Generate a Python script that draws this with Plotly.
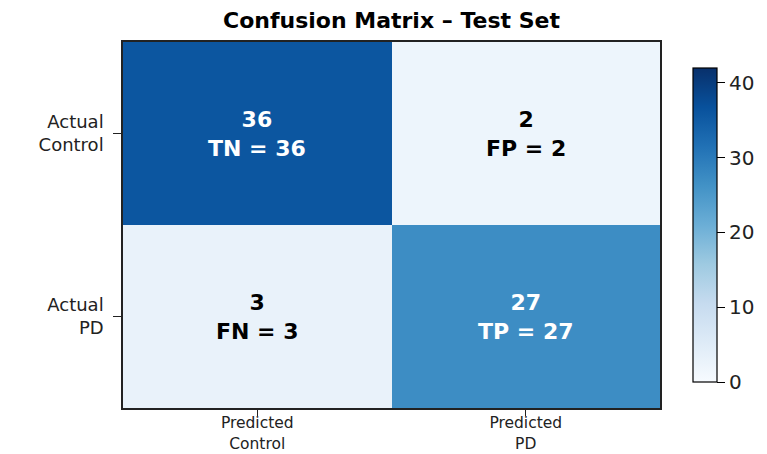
import plotly.graph_objects as go

pred_labels = ["Predicted<br>Control", "Predicted<br>PD"]
actual_labels = ["Actual<br>Control", "Actual<br>PD"]
counts = [[36, 2], [3, 27]]
cell_codes = [["TN", "FP"], ["FN", "TP"]]
zmax = 42

blues = [
    [0.0, "#f7fbff"], [0.125, "#deebf7"], [0.25, "#c6dbef"], [0.375, "#9ecae1"],
    [0.5, "#6baed6"], [0.625, "#4292c6"], [0.75, "#2171b5"], [0.875, "#08519c"],
    [1.0, "#08306b"],
]

# page body has an 8px default margin; work in window coordinates and compensate
OFF = 8
W, H = 767 - OFF, 454 - OFF
L, R, T, B = 123 - OFF, 660 - OFF, 42 - OFF, 408 - OFF

fig = go.Figure(go.Heatmap(
    x=pred_labels, y=actual_labels, z=counts,
    zmin=0, zmax=zmax, colorscale=blues,
    colorbar=dict(
        x=(693 - 123) / (660 - 123), xanchor="left", xref="paper", xpad=0, ypad=0,
        y=(408 - 225) / (408 - 42), yanchor="middle", len=(382 - 68) / (408 - 42),
        lenmode="fraction",
        thickness=24, outlinecolor="black", outlinewidth=1.2,
        tickvals=[0, 10, 20, 30, 40], ticks="outside", ticklen=8,
        tickcolor="black", tickfont=dict(size=20, color="#222"),
    ),
    hoverinfo="skip",
))

for i, row in enumerate(counts):
    for j, v in enumerate(row):
        color = "white" if v > zmax / 2 else "black"
        fig.add_annotation(
            x=pred_labels[j], y=actual_labels[i],
            text=f"<b>{v}<br>{cell_codes[i][j]} = {v}</b>",
            showarrow=False, font=dict(size=22, color=color),
        )

fig.update_layout(
    width=W, height=H,
    margin=dict(l=L, r=W - R, t=T, b=H - B, autoexpand=False),
    paper_bgcolor="white", plot_bgcolor="white",
    font=dict(family="DejaVu Sans", color="#222"),
    title=dict(text="<b>Confusion Matrix – Test Set</b>", x=(L + R) / 2 / W,
               xanchor="center", y=1 - (20 - OFF) / H, yanchor="middle",
               font=dict(size=22, color="black")),
    xaxis=dict(showline=True, linecolor="#222", linewidth=1.5, mirror=True,
               ticks="outside", ticklen=6, tickcolor="#222", ticklabelstandoff=-6,
               tickfont=dict(size=15.5), showgrid=False),
    yaxis=dict(showline=True, linecolor="#222", linewidth=1.5, mirror=True,
               ticks="outside", ticklen=8, tickcolor="#222", autorange="reversed",
               ticklabelstandoff=6,
               tickfont=dict(size=18), showgrid=False),
)

fig.write_html("out.html")
